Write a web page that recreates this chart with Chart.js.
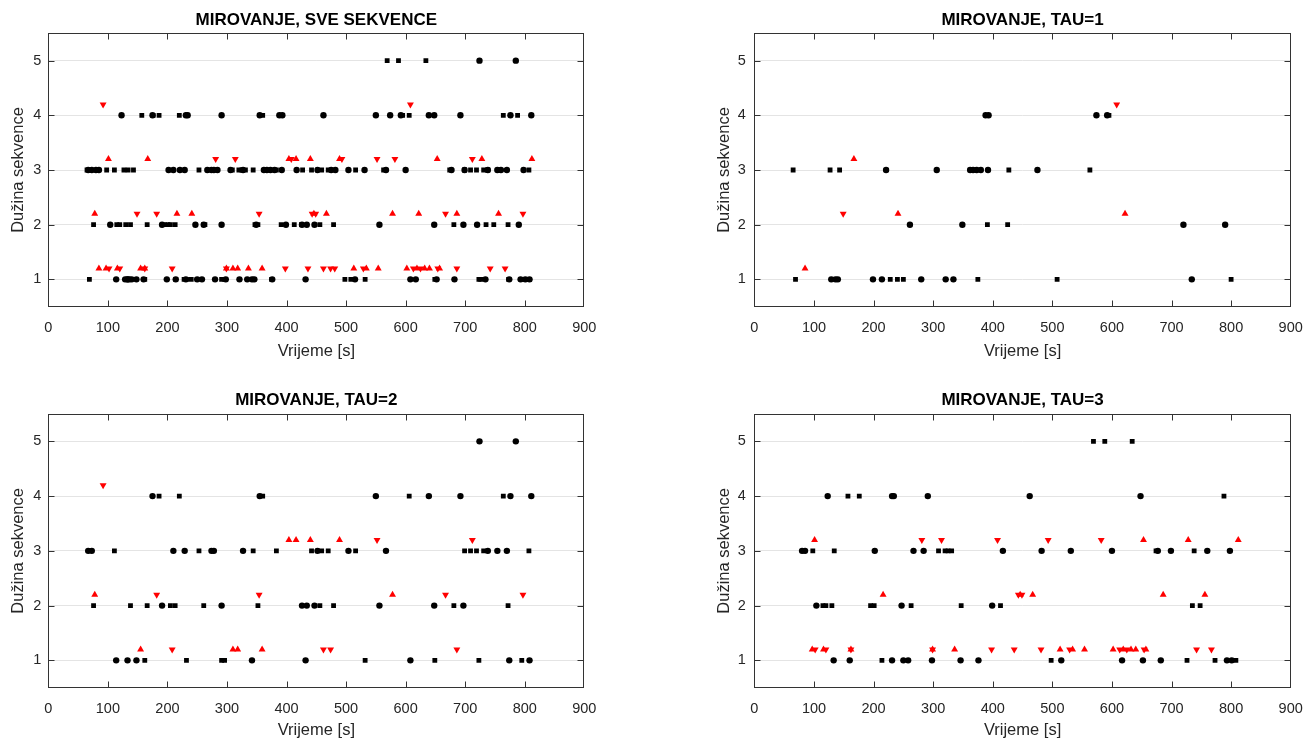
<!DOCTYPE html>
<html>
<head>
<meta charset="utf-8">
<title>Mirovanje</title>
<script src="https://cdn.jsdelivr.net/npm/chart.js@4.4.1/dist/chart.umd.min.js"></script>
<style>
  body { margin: 0; background: #fff; }
  #wrap { position: relative; width: 1304px; height: 740px; overflow: hidden; }
  canvas { position: absolute; }
</style>
</head>
<body>
<div id="wrap">
  <canvas id="c1" width="652" height="380" style="left:0;top:0;width:652px;height:380px"></canvas>
  <canvas id="c2" width="620" height="380" style="left:700px;top:0;width:620px;height:380px"></canvas>
  <canvas id="c3" width="652" height="360" style="left:0;top:380px;width:652px;height:360px"></canvas>
  <canvas id="c4" width="620" height="360" style="left:700px;top:380px;width:620px;height:360px"></canvas>
</div>
<script>
const xTicks = [0, 100, 200, 300, 400, 500, 600, 700, 800, 900];
const yTicks = [1, 2, 3, 4, 5];

// TAU=1  [vrijeme, duzina]
const tau1Circles = [
  [388,4],[393,4],[574,4],[592,4],
  [221,3],[306,3],[362,3],[367,3],[373,3],[380,3],[392,3],[475,3],
  [261,2],[349,2],[720,2],[790,2],
  [129,1],[136,1],[140,1],[199,1],[214,1],[280,1],[321,1],[334,1],[734,1]
];
const tau1Squares = [
  [595,4],
  [65,3],[127,3],[143,3],[427,3],[563,3],
  [391,2],[425,2],
  [69,1],[228,1],[240,1],[250,1],[375,1],[508,1],[800,1]
];
const tau1Up = [[167,3.2],[241,2.2],[622,2.2],[85,1.2]];
const tau1Down = [[608,4.2],[149,2.2]];

// TAU=2
const tau2Circles = [
  [724,5],[785,5],
  [175,4],[355,4],[550,4],[639,4],[692,4],[776,4],[811,4],
  [67,3],[73,3],[210,3],[229,3],[274,3],[278,3],[327,3],[452,3],[504,3],[567,3],[738,3],[754,3],[770,3],
  [191,2],[291,2],[426,2],[434,2],[447,2],[556,2],[648,2],[697,2],
  [114,1],[133,1],[148,1],[342,1],[432,1],[608,1],[774,1],[808,1]
];
const tau2Squares = [
  [186,4],[220,4],[360,4],[606,4],[764,4],
  [111,3],[253,3],[344,3],[383,3],[442,3],[459,3],[470,3],[516,3],[699,3],[709,3],[719,3],[731,3],[807,3],
  [76,2],[138,2],[166,2],[205,2],[213,2],[261,2],[352,2],[456,2],[479,2],[681,2],[772,2],
  [162,1],[232,1],[291,1],[296,1],[532,1],[649,1],[723,1],[795,1]
];
const tau2Up = [
  [404,3.2],[416,3.2],[440,3.2],[489,3.2],
  [78,2.2],[578,2.2],
  [155,1.2],[310,1.2],[318,1.2],[359,1.2]
];
const tau2Down = [
  [92,4.2],
  [552,3.2],[712,3.2],
  [182,2.2],[354,2.2],[667,2.2],[797,2.2],
  [208,1.2],[462,1.2],[474,1.2],[686,1.2]
];

// TAU=3
const tau3Circles = [
  [123,4],[231,4],[234,4],[291,4],[462,4],[648,4],
  [80,3],[85,3],[202,3],[267,3],[284,3],[417,3],[482,3],[531,3],[600,3],[677,3],[699,3],[760,3],[798,3],
  [104,2],[247,2],[399,2],
  [133,1],[160,1],[231,1],[250,1],[258,1],[298,1],[346,1],[376,1],[515,1],[617,1],[652,1],[682,1],[793,1],[801,1]
];
const tau3Squares = [
  [569,5],[588,5],[634,5],
  [157,4],[176,4],[788,4],
  [98,3],[134,3],[309,3],[320,3],[325,3],[331,3],[674,3],[738,3],
  [115,2],[120,2],[130,2],[195,2],[201,2],[263,2],[347,2],[413,2],[735,2],[748,2],
  [214,1],[498,1],[726,1],[773,1],[808,1]
];
const tau3Up = [
  [101,3.2],[653,3.2],[728,3.2],[812,3.2],
  [216,2.2],[446,2.2],[467,2.2],[686,2.2],[756,2.2],
  [97,1.2],[116,1.2],[162,1.2],[299,1.2],[336,1.2],[513,1.2],[534,1.2],[554,1.2],[602,1.2],[619,1.2],[632,1.2],[640,1.2],[657,1.2]
];
const tau3Down = [
  [281,3.2],[314,3.2],[408,3.2],[493,3.2],[582,3.2],
  [443,2.2],[449,2.2],
  [102,1.2],[120,1.2],[162,1.2],[299,1.2],[398,1.2],[436,1.2],[481,1.2],[529,1.2],[613,1.2],[625,1.2],[654,1.2],[742,1.2],[767,1.2]
];

const FONT = '"Liberation Sans", Arial, Helvetica, sans-serif';
const TEXT = '#262626';
const AXIS = '#333333';

const toPts = arr => arr.map(p => ({ x: p[0], y: p[1] }));

// okvir s unutarnjim crticama na sve cetiri strane (kao u MATLAB-u)
const boxPlugin = {
  id: 'matlabBox',
  afterDraw(chart) {
    const ctx = chart.ctx;
    const a = chart.chartArea;
    const xs = chart.scales.x, ys = chart.scales.y;
    const L = Math.round(a.left) + 0.5, R = Math.round(a.right) - 0.5;
    const T = Math.round(a.top) + 0.5, B = Math.round(a.bottom) - 0.5;
    const len = 6;
    ctx.save();
    ctx.strokeStyle = AXIS;
    ctx.lineWidth = 1;
    ctx.beginPath();
    for (const v of xTicks) {
      const px = Math.min(Math.max(Math.round(xs.getPixelForValue(v)) + 0.5, L), R);
      ctx.moveTo(px, B); ctx.lineTo(px, B - len);
      ctx.moveTo(px, T); ctx.lineTo(px, T + len);
    }
    for (const v of yTicks) {
      const py = Math.round(ys.getPixelForValue(v)) + 0.5;
      ctx.moveTo(L, py); ctx.lineTo(L + len, py);
      ctx.moveTo(R, py); ctx.lineTo(R - len, py);
    }
    ctx.stroke();
    ctx.strokeRect(L, T, R - L, B - T);
    ctx.restore();
  }
};

function makeChart(id, title, circles, squares, ups, downs, g) {
  new Chart(document.getElementById(id), {
    type: 'scatter',
    data: {
      datasets: [
        { data: toPts(circles), pointStyle: 'circle', pointRadius: 3.2, pointBackgroundColor: '#000', pointBorderWidth: 0 },
        { data: toPts(squares), pointStyle: 'rect', pointRadius: 3.4, pointBackgroundColor: '#000', pointBorderWidth: 0 },
        { data: toPts(ups), pointStyle: 'triangle', pointRadius: 4, pointBackgroundColor: '#ff0000', pointBorderWidth: 0 },
        { data: toPts(downs), pointStyle: 'triangle', pointRotation: 180, pointRadius: 4, pointBackgroundColor: '#ff0000', pointBorderWidth: 0 }
      ]
    },
    options: {
      responsive: false,
      animation: false,
      events: [],
      layout: { padding: { left: 0, right: g.padRight, top: 0, bottom: 0 } },
      plugins: {
        legend: { display: false },
        tooltip: { enabled: false },
        title: {
          display: true,
          text: title,
          fullSize: false,
          color: '#000',
          font: { family: FONT, size: 17, weight: 'bold' },
          padding: { top: 10.5, bottom: g.titleBottom }
        }
      },
      scales: {
        x: {
          type: 'linear',
          min: 0,
          max: 900,
          afterBuildTicks: s => { s.ticks = xTicks.map(v => ({ value: v })); },
          afterFit: s => { s.height = g.xAxisH; },
          grid: { display: false },
          border: { display: false },
          ticks: { color: TEXT, padding: 4.5, maxRotation: 0, autoSkip: false, font: { family: FONT, size: 14.5 } },
          title: { display: true, text: 'Vrijeme [s]', color: TEXT, font: { family: FONT, size: 16.5 }, padding: { top: 0, bottom: g.xTitleBottom } }
        },
        y: {
          type: 'linear',
          min: 0.5,
          max: 5.5,
          afterBuildTicks: s => { s.ticks = yTicks.map(v => ({ value: v })); },
          afterFit: s => { s.width = g.axisW; },
          grid: { color: '#e4e4e4', drawTicks: false },
          border: { display: false },
          ticks: { color: TEXT, padding: g.yTickPad, font: { family: FONT, size: 14.5 } },
          title: { display: true, text: 'Dužina sekvence', color: TEXT, font: { family: FONT, size: 16.5 }, padding: { top: g.yTitleTop, bottom: 0 } }
        }
      }
    },
    plugins: [boxPlugin]
  });
}

const geoTL = { axisW: 48.3, padRight: 67.7, xAxisH: 73.3, titleBottom: 2.4, xTitleBottom: 19, yTitleTop: 8.1, yTickPad: 7 };
const geoTR = { axisW: 54.4, padRight: 29.3, xAxisH: 73.3, titleBottom: 2.4, xTitleBottom: 19, yTitleTop: 14.1, yTickPad: 8.5 };
const geoBL = { axisW: 48.3, padRight: 67.7, xAxisH: 52.3, titleBottom: 3.1, xTitleBottom: 0, yTitleTop: 8.1, yTickPad: 7 };
const geoBR = { axisW: 54.4, padRight: 29.3, xAxisH: 52.3, titleBottom: 3.1, xTitleBottom: 0, yTitleTop: 14.1, yTickPad: 8.5 };

makeChart('c1', 'MIROVANJE, SVE SEKVENCE',
  tau1Circles.concat(tau2Circles, tau3Circles),
  tau1Squares.concat(tau2Squares, tau3Squares),
  tau1Up.concat(tau2Up, tau3Up),
  tau1Down.concat(tau2Down, tau3Down), geoTL);
makeChart('c2', 'MIROVANJE, TAU=1', tau1Circles, tau1Squares, tau1Up, tau1Down, geoTR);
makeChart('c3', 'MIROVANJE, TAU=2', tau2Circles, tau2Squares, tau2Up, tau2Down, geoBL);
makeChart('c4', 'MIROVANJE, TAU=3', tau3Circles, tau3Squares, tau3Up, tau3Down, geoBR);
</script>
</body>
</html>
